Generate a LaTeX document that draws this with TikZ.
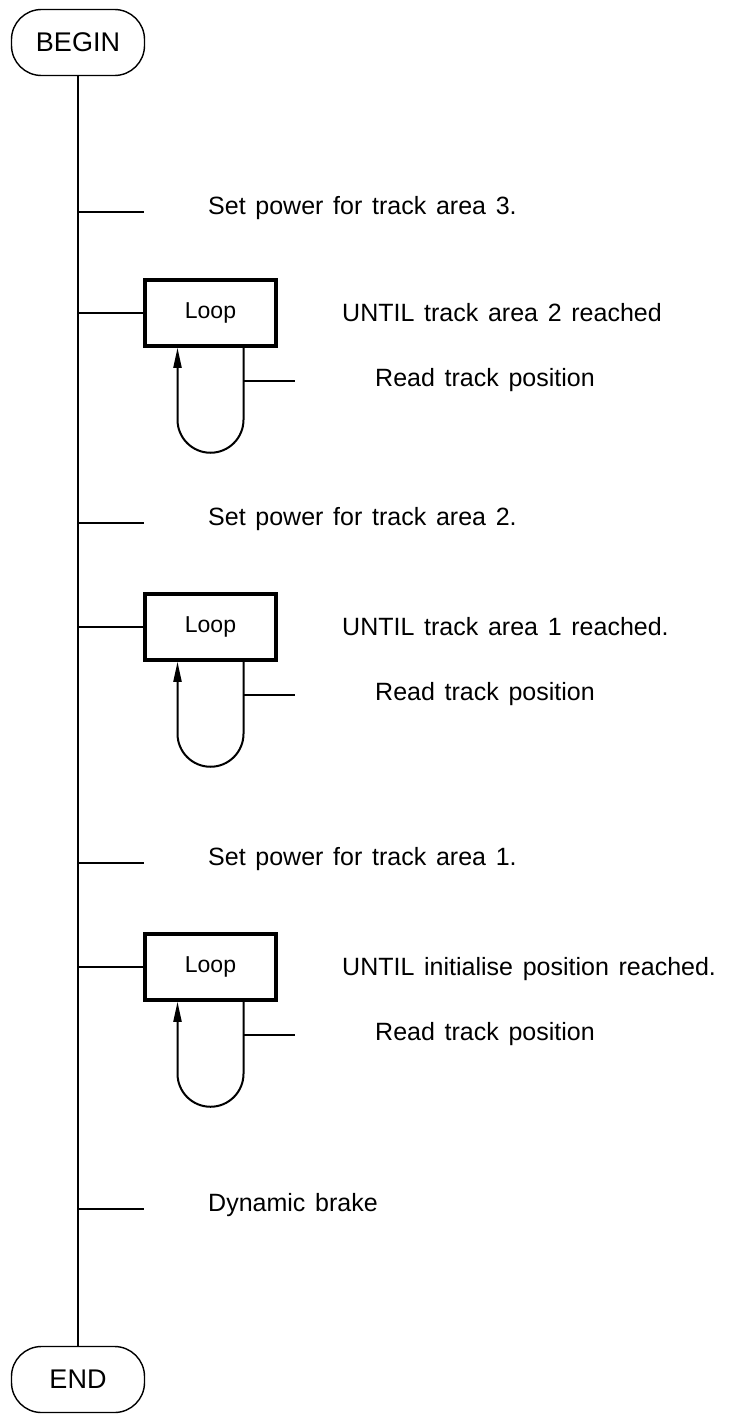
\documentclass[tikz,border=0pt]{standalone}
\usepackage{fontspec}
\setmainfont[WordSpace=1.4]{Liberation Sans}
\usetikzlibrary{arrows.meta,positioning}

\begin{document}
\begin{tikzpicture}[x=1pt,y=1pt,
term/.style={draw,line width=1.4pt,rounded corners=30pt,minimum width=133pt,minimum height=66pt,font=\fontsize{27}{32}\selectfont},
loopbox/.style={draw,line width=3.5pt,minimum width=131pt,minimum height=66pt,font=\fontsize{23}{28}\selectfont},
lbl/.style={anchor=base west,inner sep=0pt,font=\fontsize{25}{30}\selectfont},
ln/.style={line width=1.6pt},
arr/.style={-{Triangle[length=20pt,width=8pt]},line width=2pt}]
\useasboundingbox (0,0) rectangle (745,-1416);
\node[term] (begin) at (78,-42.5) {BEGIN};
\node[term] (end) at (78,-1379.5) {END};
\draw[ln] (begin.south) -- (end.north);
\coordinate (trunk) at (78,0);

% track area 3
\coordinate (pA) at (144,-212);
\draw[ln] (pA -| trunk) -- (pA);
\node[lbl] (setA) at (208,-214) {Set power for track area 3.};
\node[loopbox] (loopA) at (210.5,-313) {Loop};
\draw[ln] (loopA.west -| trunk) -- (loopA.west);
\node[lbl] (untilA) at (342,-321) {UNTIL track area 2 reached};
\draw[arr] ([xshift=33pt]loopA.south) -- ++(0,-72) arc[start angle=0,end angle=-180,radius=33] -- ([xshift=-33pt]loopA.south);
\coordinate (rA) at ([shift={(33pt,-33pt)}]loopA.south);
\coordinate (rAe) at ([shift={(84pt,-33pt)}]loopA.south);
\draw[ln] (rA) -- (rAe);
\node[lbl] (readA) at (375,-386) {Read track position};

% track area 2
\coordinate (pB) at (144,-523);
\draw[ln] (pB -| trunk) -- (pB);
\node[lbl] (setB) at (208,-525) {Set power for track area 2.};
\node[loopbox] (loopB) at (210.5,-627) {Loop};
\draw[ln] (loopB.west -| trunk) -- (loopB.west);
\node[lbl] (untilB) at (342,-635) {UNTIL track area 1 reached.};
\draw[arr] ([xshift=33pt]loopB.south) -- ++(0,-72) arc[start angle=0,end angle=-180,radius=33] -- ([xshift=-33pt]loopB.south);
\coordinate (rB) at ([shift={(33pt,-33pt)}]loopB.south);
\coordinate (rBe) at ([shift={(84pt,-33pt)}]loopB.south);
\draw[ln] (rB) -- (rBe);
\node[lbl] (readB) at (375,-700) {Read track position};

% track area 1
\coordinate (pC) at (144,-863);
\draw[ln] (pC -| trunk) -- (pC);
\node[lbl] (setC) at (208,-865) {Set power for track area 1.};
\node[loopbox] (loopC) at (210.5,-967) {Loop};
\draw[ln] (loopC.west -| trunk) -- (loopC.west);
\node[lbl] (untilC) at (342,-975) {UNTIL initialise position reached.};
\draw[arr] ([xshift=33pt]loopC.south) -- ++(0,-72) arc[start angle=0,end angle=-180,radius=33] -- ([xshift=-33pt]loopC.south);
\coordinate (rC) at ([shift={(33pt,-33pt)}]loopC.south);
\coordinate (rCe) at ([shift={(84pt,-33pt)}]loopC.south);
\draw[ln] (rC) -- (rCe);
\node[lbl] (readC) at (375,-1040) {Read track position};

% brake
\coordinate (pD) at (144,-1209);
\draw[ln] (pD -| trunk) -- (pD);
\node[lbl] (brake) at (208,-1211) {Dynamic brake};
\end{tikzpicture}
\end{document}
